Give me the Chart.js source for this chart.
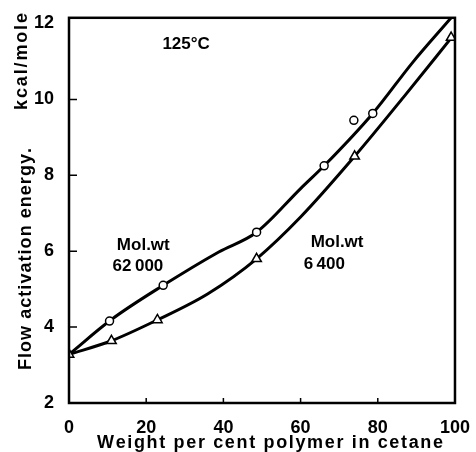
<!DOCTYPE html>
<html><head><meta charset="utf-8">
<script src="https://cdn.jsdelivr.net/npm/chart.js@4"></script>
<style>html,body{margin:0;padding:0;background:#fff}#wrap{width:476px;height:452px}</style>
</head><body><div id="wrap"><canvas id="c" width="476" height="452"></canvas></div>
<script>
// ---- data ----
const xTicks = [0, 20, 40, 60, 80, 100];
const yTicks = [2, 4, 6, 8, 10, 12];
// Mol. wt 62 000 : measured points (open circles)
const hiX = [10.5, 24.4, 48.6, 66.1, 73.8, 78.7];
const hiY = [4.16, 5.1, 6.5, 8.25, 9.45, 9.63];
// Mol. wt 62 000 : drawn curve
const hiCurveX = [0, 11, 24.4, 38.8, 48.6, 60, 66.1, 78.7, 89, 99];
const hiCurveY = [3.28, 4.2, 5.1, 5.98, 6.5, 7.65, 8.25, 9.63, 10.97, 12.15];
// Mol. wt 6 400 : measured points (open triangles)
const loX = [0, 11, 22.9, 48.6, 74, 99];
const loY = [3.28, 3.64, 4.19, 5.8, 8.5, 11.63];
// Mol. wt 6 400 : drawn curve
const loCurveX = [0, 11, 22.9, 36, 48.6, 60, 74, 87, 99.5];
const loCurveY = [3.28, 3.64, 4.19, 4.88, 5.8, 6.9, 8.5, 10.1, 11.68];

const xTitle = 'Weight per cent polymer in cetane';
const yTitleA = 'Flow activation energy.';
const yTitleB = 'kcal/mole';
const notes = [
  {text: '125°C', x: 24.2, y: 11.32},
  {text: 'Mol.wt', x: 12.4, y: 6.04},
  {text: '62\u2009000', x: 11.3, y: 5.49},
  {text: 'Mol.wt', x: 62.6, y: 6.11},
  {text: '6\u2009400', x: 60.8, y: 5.54}
];

const FONT = '"Liberation Sans", Arial, sans-serif';
const pts = (xs, ys) => xs.map((x, i) => ({x, y: ys[i]}));

function spaced(ctx, text, x, y, width) {
  const chars = [...text];
  const w = chars.reduce((a, c) => a + ctx.measureText(c).width, 0);
  const gap = chars.length > 1 ? (width - w) / (chars.length - 1) : 0;
  let cx = x;
  for (const c of chars) { ctx.fillText(c, cx, y); cx += ctx.measureText(c).width + gap; }
}

const decor = {
  id: 'decor',
  afterDraw(chart) {
    const {ctx, chartArea: a, scales: {x, y}} = chart;
    ctx.save();
    ctx.strokeStyle = '#000';
    ctx.lineWidth = 2.5;
    ctx.strokeRect(a.left, a.top, a.right - a.left, a.bottom - a.top);
    ctx.lineWidth = 1.5;
    ctx.beginPath();
    yTicks.slice(1, -1).forEach(v => { const py = y.getPixelForValue(v); ctx.moveTo(a.left, py); ctx.lineTo(a.left + 8, py); });
    xTicks.slice(1, -1).forEach(v => { const px = x.getPixelForValue(v); ctx.moveTo(px, a.bottom); ctx.lineTo(px, a.bottom - 5); });
    ctx.stroke();
    ctx.fillStyle = '#000';
    ctx.textBaseline = 'alphabetic';
    ctx.textAlign = 'left';
    ctx.font = 'bold 17px ' + FONT;
    notes.forEach(n => ctx.fillText(n.text, x.getPixelForValue(n.x), y.getPixelForValue(n.y)));
    // x title
    ctx.font = 'bold 18px ' + FONT;
    spaced(ctx, xTitle, 97, 448, 346);
    // y title
    ctx.save();
    ctx.translate(31, 370);
    ctx.rotate(-Math.PI / 2);
    ctx.font = 'bold 18px ' + FONT;
    spaced(ctx, yTitleA, 0, 0, 222);
    ctx.restore();
    ctx.save();
    ctx.translate(27, 110);
    ctx.rotate(-Math.PI / 2);
    ctx.font = 'bold 18px ' + FONT;
    spaced(ctx, yTitleB, 0, 0, 97);
    ctx.restore();
    ctx.restore();
  }
};

new Chart(document.getElementById('c'), {
  type: 'line',
  data: {
    datasets: [
      {data: pts(hiX, hiY), showLine: false, pointStyle: 'circle', pointRadius: 4, pointBorderWidth: 1.5,
       pointBorderColor: '#000', pointBackgroundColor: '#fff', order: 0},
      {data: pts(loX, loY), showLine: false, pointStyle: 'triangle', pointRadius: 5.5, pointBorderWidth: 1.5,
       pointBorderColor: '#000', pointBackgroundColor: '#fff', order: 0},
      {data: pts(hiCurveX, hiCurveY), borderColor: '#000', borderWidth: 3, pointRadius: 0,
       cubicInterpolationMode: 'monotone', fill: false, order: 1},
      {data: pts(loCurveX, loCurveY), borderColor: '#000', borderWidth: 3, pointRadius: 0,
       cubicInterpolationMode: 'monotone', fill: false, order: 1}
    ]
  },
  options: {
    responsive: false, animation: false, devicePixelRatio: 1,
    layout: {padding: {top: 14, right: 21, left: 0, bottom: 0}},
    plugins: {legend: {display: false}, tooltip: {enabled: false}},
    scales: {
      x: {type: 'linear', min: 0, max: 100,
          afterBuildTicks: s => { s.ticks = xTicks.map(v => ({value: v})); },
          afterFit: s => { s.height = 49; },
          grid: {display: false}, border: {display: false},
          ticks: {color: '#000', font: {family: FONT, size: 18, weight: 'bold'}, padding: 6, maxRotation: 0, autoSkip: false}},
      y: {type: 'linear', min: 2, max: 12.15,
          afterBuildTicks: s => { s.ticks = yTicks.map(v => ({value: v})); },
          afterFit: s => { s.width = 69; },
          grid: {display: false}, border: {display: false},
          ticks: {color: '#000', font: {family: FONT, size: 18, weight: 'bold'}, padding: 7, autoSkip: false}}
    }
  },
  plugins: [decor]
});
</script></body></html>
